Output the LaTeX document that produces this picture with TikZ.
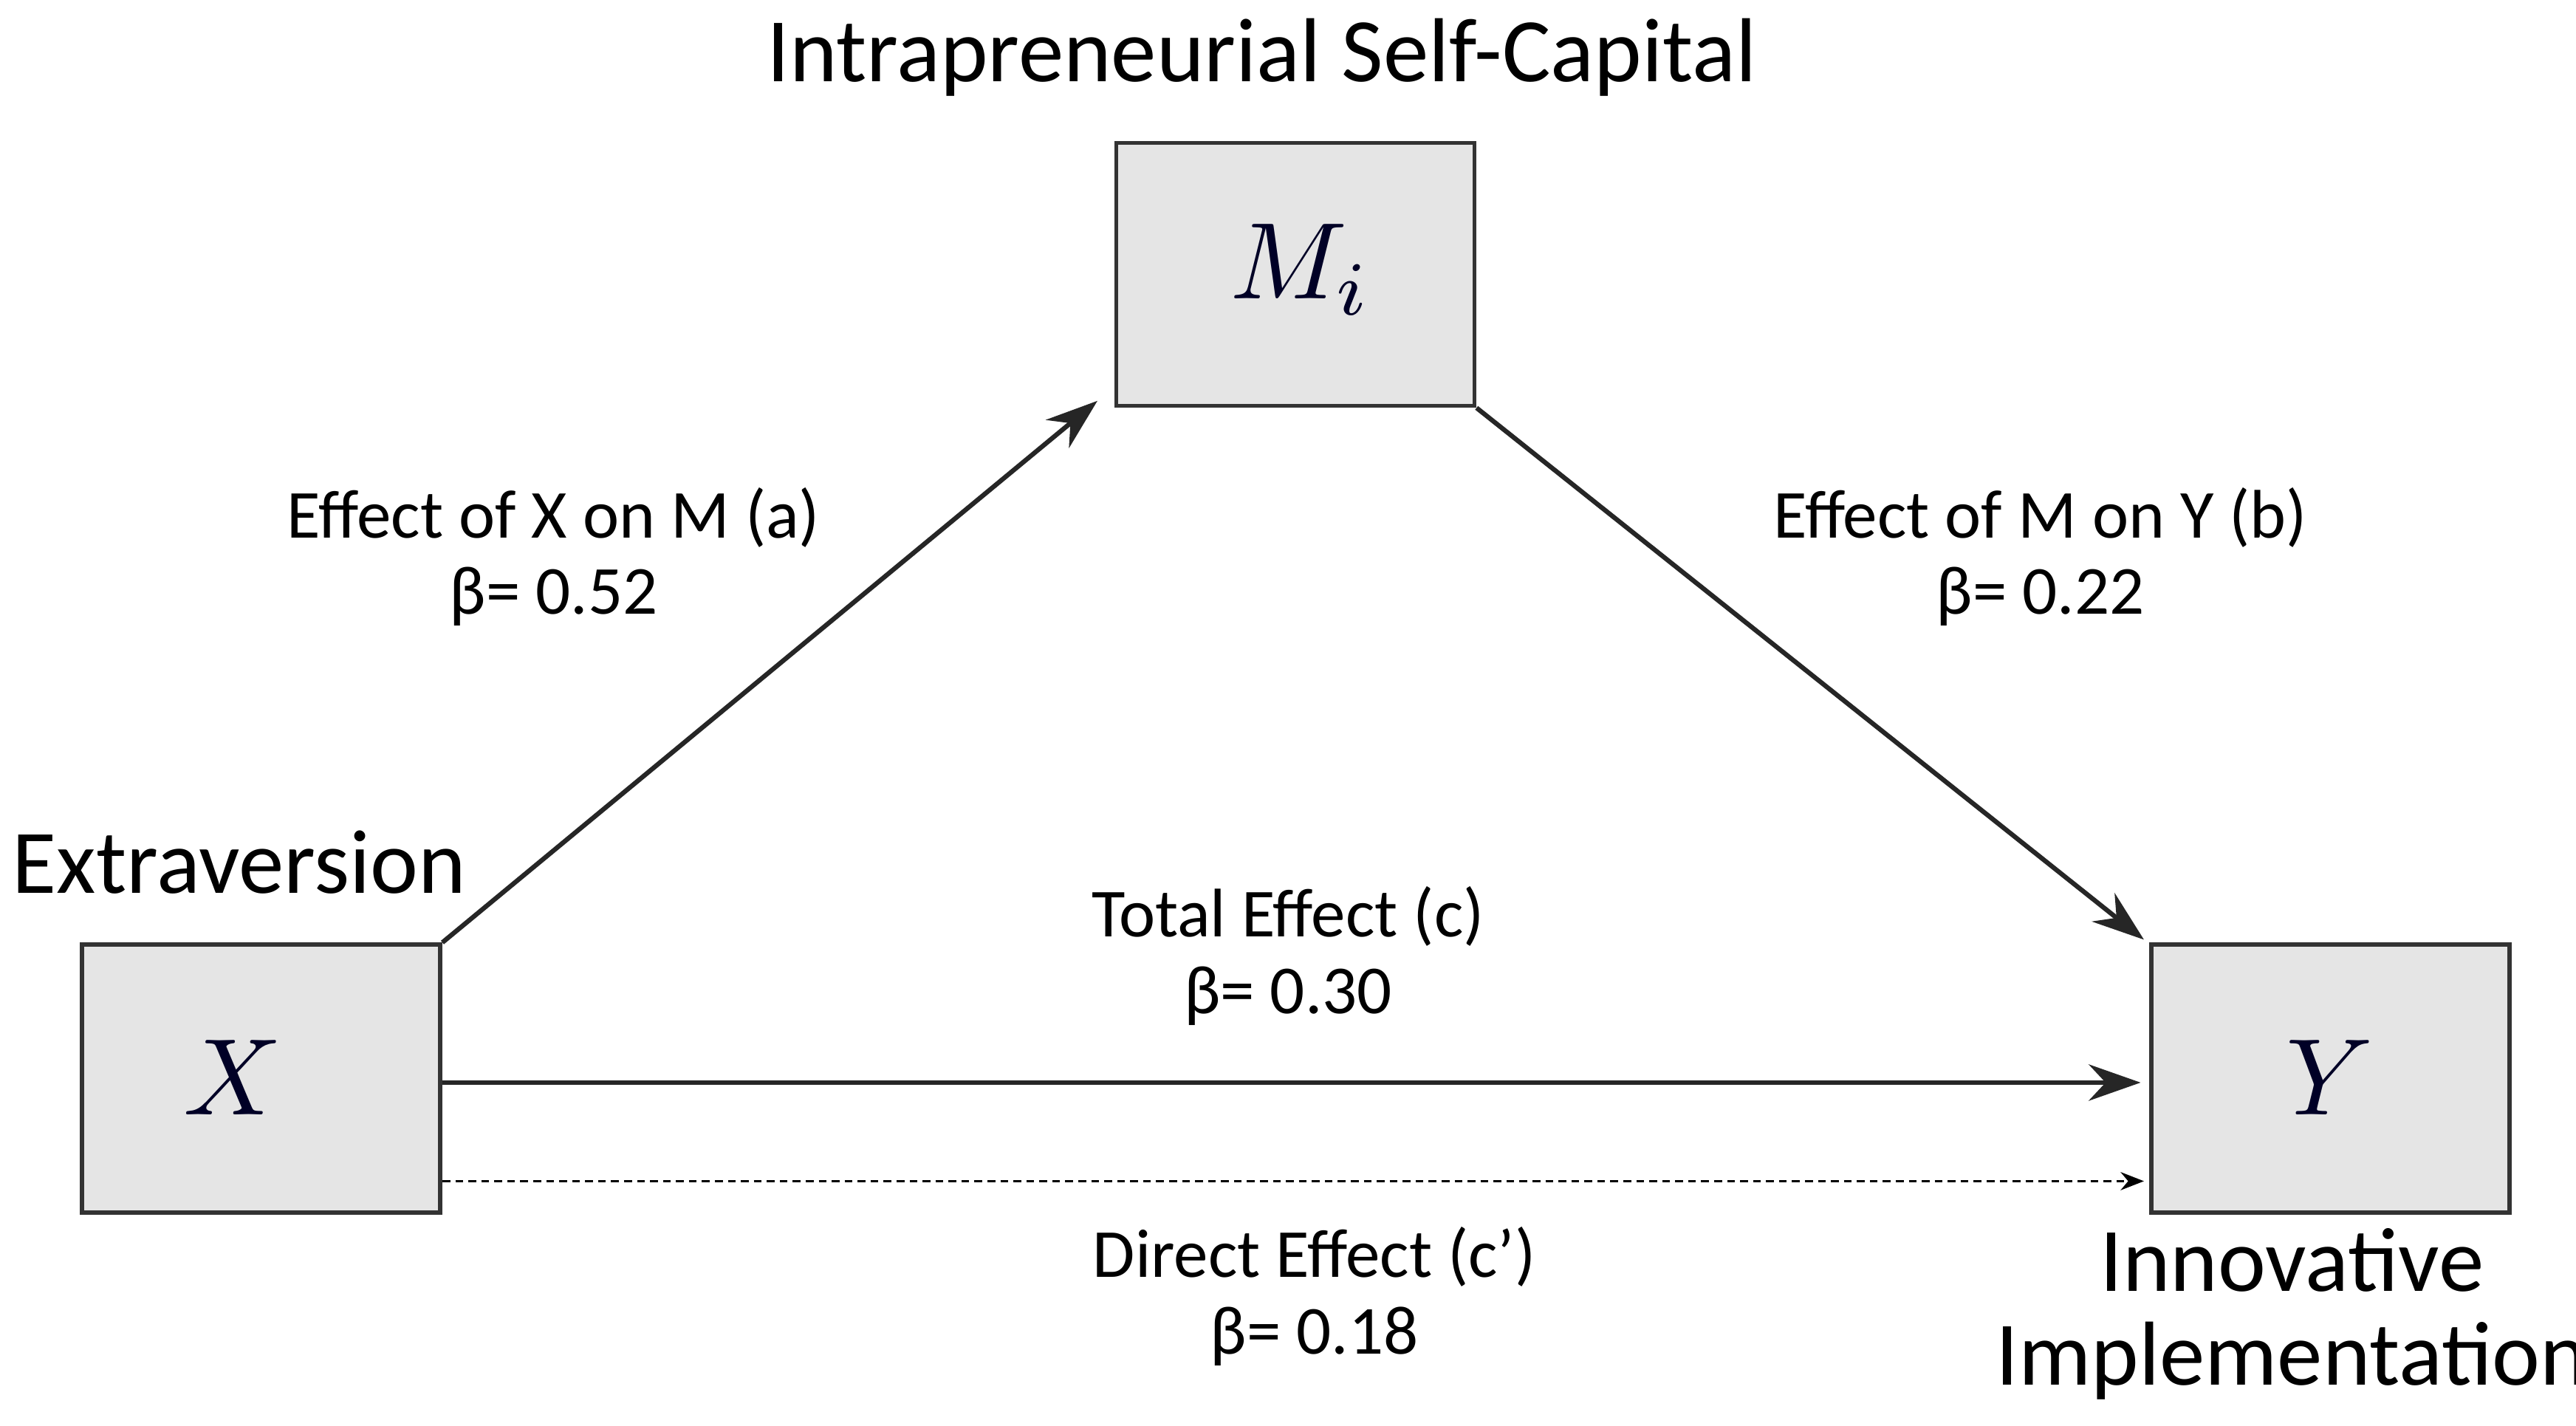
\documentclass[tikz,border=0pt]{standalone}
\usepackage{fontspec}
\setmainfont{Carlito}
\usepackage{graphicx}
\usetikzlibrary{arrows.meta}
\begin{document}
\begin{tikzpicture}[x=0.022245cm,y=-0.022245cm,
 box/.style={draw=black!80,line width=1.6pt,fill=black!10,inner sep=0pt},
 var/.style={text=black!85!blue},
 lab/.style={font=\fontsize{26.5}{29.5}\selectfont,align=center},
 big/.style={font=\fontsize{35}{40}\selectfont,align=center},
 arr/.style={line width=1.8pt,black!85,-{Stealth[length=20pt,width=14pt]}}]
\useasboundingbox (0,0) rectangle (1568,868);
\node[box,minimum width=218*0.022245cm,minimum height=163*0.022245cm] (X) at (159,656.5) {};
\node[box,minimum width=218*0.022245cm,minimum height=160*0.022245cm] (M) at (788.5,167) {};
\node[box,minimum width=218*0.022245cm,minimum height=163*0.022245cm] (Y) at (1418.5,656.5) {};
\node[var] (xt) at (142,656) {\scalebox{4.2}{$X$}};
\node[var] (mt) at (792,164) {\scalebox{4.2}{$M_i$}};
\node[var] (yt) at (1418,656) {\scalebox{4.2}{$Y$}};
\coordinate (xm) at (668,244);
\coordinate (my) at (1305,572);
\coordinate (xy) at (1303,659);
\coordinate (xd) at (1305,719);
\draw[arr] (X.north east) -- (xm);
\draw[arr] (M.south east) -- (my);
\draw[arr] (X.east|-xy) -- (xy);
\draw[line width=0.8pt,dashed,dash pattern=on 3pt off 2pt,-{Stealth[length=9pt,width=7pt]}] (X.east|-xd) -- (xd);
\node[big] (t) at (768,35) {Intrapreneurial Self-Capital};
\node[big,anchor=west] (e) at (2,525) {Extraversion};
\node[big] (i) at (1395,800) {Innovative\\[-4pt]Implementation};
\node[lab] (la) at (337,339) {Effect of X on M (a)\\β= 0.52};
\node[lab] (lb) at (1242,339) {Effect of M on Y (b)\\β= 0.22};
\node[lab] (lc) at (784,582) {Total Effect (c)\\β= 0.30};
\node[lab] (ld) at (800,789) {Direct Effect (c’)\\β= 0.18};
\end{tikzpicture}
\end{document}
